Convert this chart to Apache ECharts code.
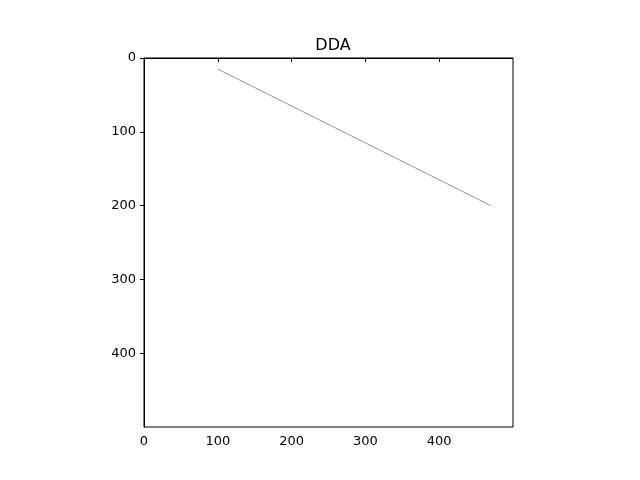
<!DOCTYPE html>
<html>
<head>
<meta charset="utf-8">
<script src="https://cdn.jsdelivr.net/npm/echarts@6/dist/echarts.min.js"></script>
<style>html,body{margin:0;background:#fff}#chart{width:640px;height:480px}</style>
</head>
<body>
<div id="chart"></div>
<script>
// line endpoints in image pixel coordinates (x, y)
const lineX = [100, 470]
const lineY = [15, 200]
const tickValues = [0, 100, 200, 300, 400]

const points = lineX.map((x, i) => [x, lineY[i]])
const axisCommon = {
  type: 'value',
  min: 0,
  max: 500,
  interval: 100,
  axisLine: { show: true, lineStyle: { color: '#000', width: 1 } },
  axisTick: { show: true, inside: false, length: 4, lineStyle: { color: '#000' } },
  axisLabel: {
    color: '#000', fontSize: 13, fontFamily: 'DejaVu Sans',
    showMaxLabel: false,
    formatter: (v) => (tickValues.includes(v) ? String(v) : '')
  },
  splitLine: { show: false }
}

const chart = echarts.init(document.getElementById('chart'))
chart.setOption({
  animation: false,
  title: {
    text: 'DDA', left: 328, top: 33, textAlign: 'center',
    textStyle: { fontSize: 16, fontWeight: 'normal', fontFamily: 'DejaVu Sans', color: '#000' }
  },
  grid: { left: 144, top: 58, width: 369, height: 369, show: true, borderColor: '#000', borderWidth: 1 },
  xAxis: Object.assign({}, axisCommon, { position: 'bottom' }),
  yAxis: Object.assign({}, axisCommon, { inverse: true, position: 'left' }),
  series: [{
    type: 'line',
    data: points,
    symbol: 'none',
    lineStyle: { color: '#555', width: 0.6 }
  }]
})
</script>
</body>
</html>
